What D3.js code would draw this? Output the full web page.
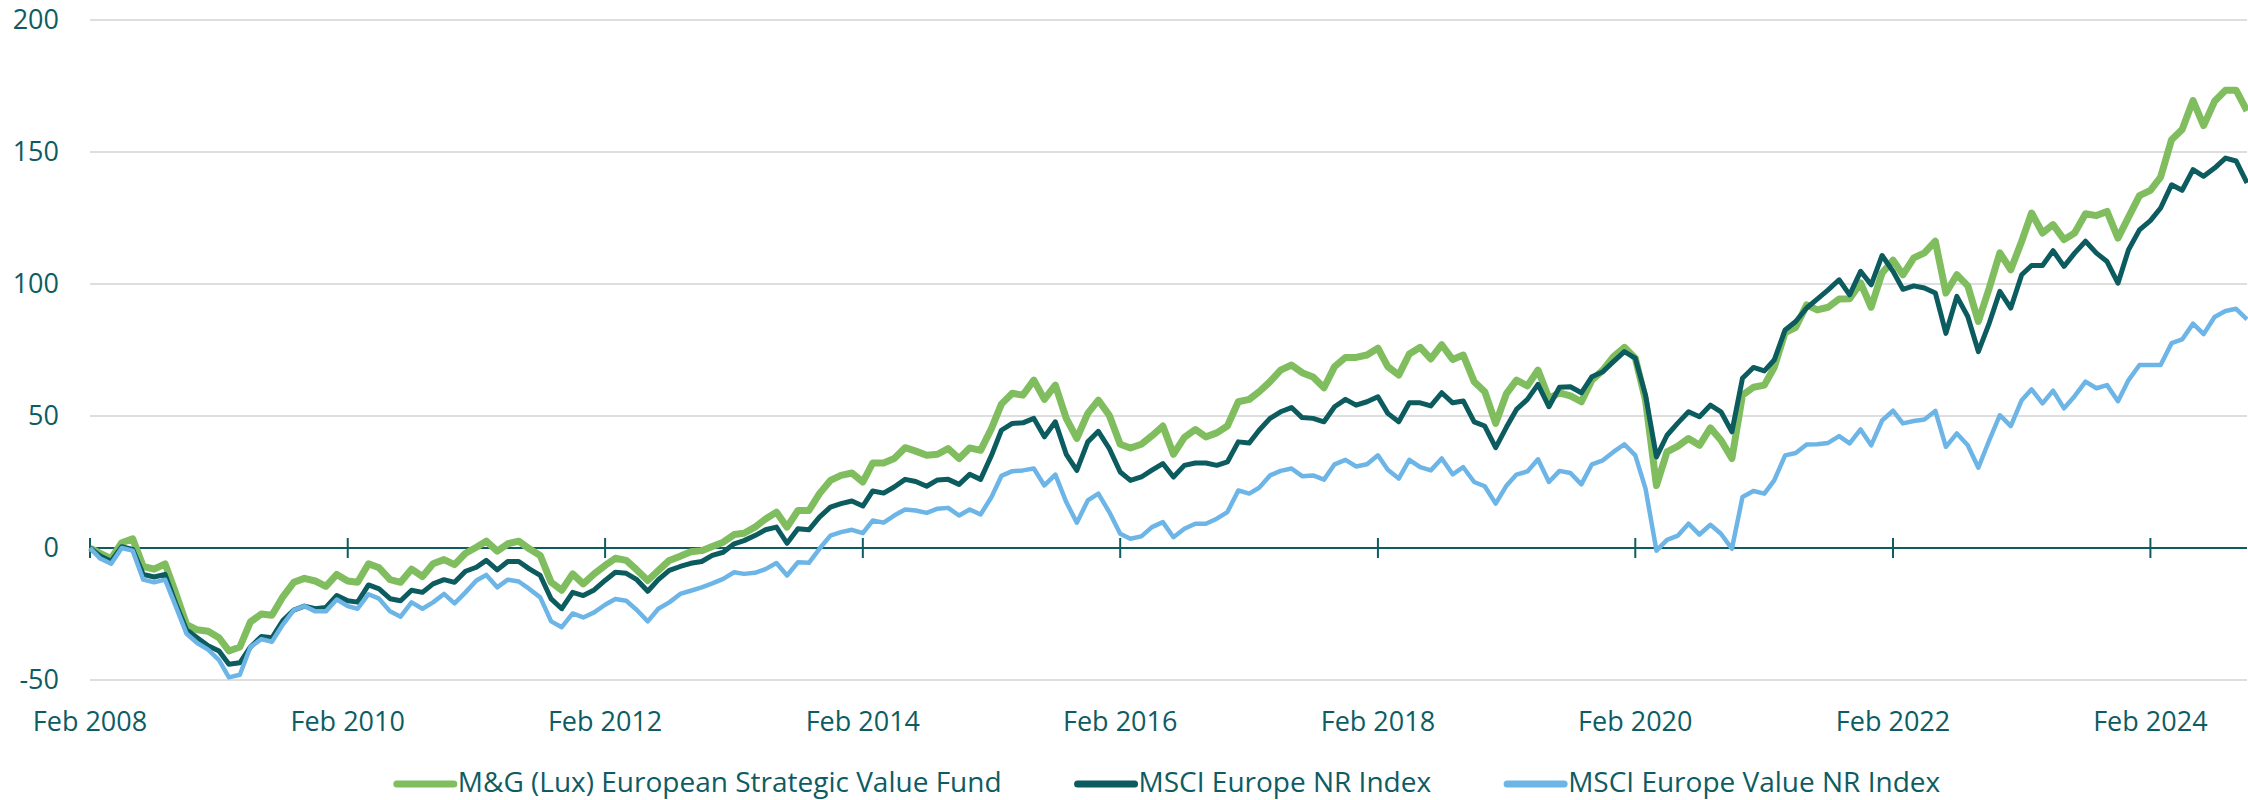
<!DOCTYPE html>
<html>
<head>
<meta charset="utf-8">
<script src="https://cdn.jsdelivr.net/npm/d3@7"></script>
<style>
  body { margin: 0; background: #fff; }
  svg { display: block; font-family: "Open Sans", sans-serif; }
  .tick-label { fill: #0e5c63; font-size: 27px; }
  .legend-label { fill: #0e5c63; font-size: 28px; }
</style>
</head>
<body>
<svg width="2248" height="800"></svg>
<script>
// monthly values, first point is Feb 2008
var startMonth = new Date(2008, 1, 1);

var fund = [0,-2,-4,2,3.5,-7,-8,-6,-17,-29,-31,-31.5,-34,-39,-37.5,-28,-25,-25.5,-18.5,-13,
  -11.5,-12.5,-14.5,-10,-12.5,-13,-6,-7.5,-12,-13,-8,-10.8,-6,-4.4,-6.3,-2,0.3,2.6,-1.2,1.6,
  2.6,-0.3,-2.8,-13,-16,-9.8,-13.6,-9.8,-6.6,-3.9,-4.7,-8.3,-12.3,-8.5,-4.7,-3.1,-1.4,-1,0.6,2.2,
  5.1,5.6,7.9,11,13.6,7.9,14.2,14.2,20.6,25.6,27.5,28.4,25,32.2,32.2,33.9,38,36.7,35.1,35.5,
  37.7,33.9,37.9,37,45.3,54.5,58.6,57.9,63.6,56.3,61.7,49.1,41.5,51,56,50.3,39.3,37.9,39.3,42.5,
  46.2,35.5,41.9,44.9,42.1,43.6,46.2,55.4,56.3,59.2,63,67.4,69.3,66.4,64.8,60.7,68.7,72.2,72.2,73.1,
  75.7,68.7,65.5,73.5,76,71.6,77,71.4,73.1,63,59.2,47.2,58.6,63.6,61.4,67.4,56.7,58.8,57.6,55.4,
  63.6,67.4,72.5,76,71.9,56,23.7,36.4,38.6,41.5,38.9,45.5,40.8,33.9,57.9,60.9,61.7,68.4,81.6,83.6,
  92.1,90.2,91.2,94.3,94.4,100.4,91.2,104.2,109,103.5,109.9,111.8,116.2,96.6,103.5,99.3,85.8,98.5,111.8,105.4,
  116.2,126.9,119.3,122.5,116.8,119.3,126.6,125.9,127.5,117.4,125.3,133.5,135.5,140.5,154.6,158.5,169.5,160,169.2,173.4,
  173.4,165.6];

var msciEurope = [0,-3,-5,0.5,-0.5,-10,-11,-10,-21,-31,-34,-37,-39,-44,-43.5,-37.5,-33.5,-34,-27.5,-23.5,
  -22,-23,-22.5,-18,-20,-20.5,-14,-15.5,-19.2,-20,-16,-16.8,-13.6,-12,-13,-8.8,-7.3,-4.7,-8.3,-5.1,
  -5.1,-7.9,-10.4,-19.3,-23,-16.8,-18,-15.9,-12.3,-9.2,-9.6,-12,-16.4,-12,-8.5,-7,-5.8,-5.1,-2.8,-1.6,
  1.6,2.8,4.7,6.9,7.9,1.8,7.3,6.9,11.7,15.5,16.8,17.8,15.9,21.6,20.8,23.1,26,25.2,23.4,25.8,
  26,24.1,27.9,26,35.1,44.6,47.2,47.4,49.1,42.1,47.8,35.5,29.4,40.2,44.2,37.7,28.8,25.6,26.9,29.5,
  32,26.9,31.3,32.2,32.2,31.3,32.6,40.2,39.8,44.6,49.1,51.6,53.2,49.4,49.1,47.8,53.5,56.3,54.1,55.4,
  57.3,51,47.8,55,55,53.8,58.8,55,55.7,47.8,46.2,38,45.9,52.5,56.3,62,53.5,60.9,61.1,58.8,
  64.9,66.8,70.6,74.4,71.9,57.9,34.5,42.7,47.4,51.6,49.7,54.1,51.6,44,64.3,68.4,67.1,71.2,82.6,85.8,
  90.9,94.3,97.8,101.6,95.9,104.8,99.7,110.8,104.8,98,99.3,98.5,96.6,81.3,95.3,87.7,74.4,85.2,97.2,90.9,
  103.5,107,107,112.6,106.7,111.7,116.2,111.7,108.5,100.3,113,120.5,124,128.8,137.6,135.5,143.3,140.8,143.9,147.7,
  146.6,138.3];

var msciValue = [0,-4,-6,0,-1,-12,-13,-12,-22,-32.5,-36,-38.5,-42.5,-49,-48,-37.5,-34.5,-35.5,-29,-23.5,
  -22,-24,-24,-19.5,-22,-23,-17.5,-19.2,-24,-26,-20.6,-23,-20.6,-17.4,-21,-16.8,-12.3,-10.2,-14.9,-12,
  -12.7,-15.5,-18.7,-27.8,-30,-24.8,-26.3,-24.4,-21.5,-19.3,-20,-23.5,-27.8,-23,-20.6,-17.4,-16.2,-14.9,-13.4,-11.7,
  -9.2,-9.8,-9.4,-8,-5.7,-10.4,-5.4,-5.6,-0.3,4.7,6,6.9,5.6,10.4,9.6,12.3,14.6,14.2,13.3,14.9,
  15.2,12.3,14.6,12.7,19.3,27.3,29.1,29.4,30.1,23.7,27.8,17.4,9.6,18,20.6,13.6,5.4,3.5,4.4,7.9,
  9.8,4.1,7.3,9.2,9.2,11.1,13.6,21.8,20.6,22.8,27.5,29.2,30.1,27.2,27.5,25.9,31.7,33.4,30.9,31.7,
  35.1,29.6,26.3,33.4,30.6,29.4,33.9,27.9,30.6,25,23.4,16.8,23.7,27.8,29,33.6,25,29.2,28.4,24.1,
  31.7,33.2,36.4,39.3,35.1,22.5,-1,3.1,4.7,9.2,5.1,8.8,5.4,-0.3,19.3,21.6,20.6,25.6,35.1,36,
  39.2,39.3,39.8,42.4,39.6,44.9,38.9,48.3,52,47.2,48.1,48.7,51.9,38.3,43.4,38.9,30.4,40.8,50.3,46.2,
  56,60.1,54.8,59.6,52.9,57.5,63,60.5,61.7,55.6,63.6,69.3,69.3,69.3,77.6,79,85,81,87.5,89.8,
  90.6,86.6];

var yTicks = [-50, 0, 50, 100, 150, 200];
var xTickLabels = ["Feb 2008", "Feb 2010", "Feb 2012", "Feb 2014", "Feb 2016", "Feb 2018", "Feb 2020", "Feb 2022", "Feb 2024"];

var seriesNames = ["M&G (Lux) European Strategic Value Fund", "MSCI Europe NR Index", "MSCI Europe Value NR Index"];
var seriesColors = ["#80bd5e", "#0b5b5f", "#6cb5e6"];
var seriesWidths = [7, 5, 4.5];

function drawChart() {
  var svg = d3.select("svg"),
      plotLeft = 90, plotRight = 2247, plotTop = 20, plotBottom = 680;

  var months = fund.map(function(d, i) { return d3.timeMonth.offset(startMonth, i); });

  var x = d3.scaleTime()
      .domain([startMonth, months[months.length - 1]])
      .range([plotLeft, plotRight]);

  var y = d3.scaleLinear()
      .domain([-50, 200])
      .range([plotBottom, plotTop]);

  svg.append("rect").attr("width", 2248).attr("height", 800).attr("fill", "#fff");

  // gridlines (zero is drawn as the axis)
  svg.append("g").selectAll("line")
    .data(yTicks.filter(function(d) { return d !== 0; }))
    .enter().append("line")
      .attr("x1", plotLeft).attr("x2", plotRight)
      .attr("y1", function(d) { return y(d); })
      .attr("y2", function(d) { return y(d); })
      .attr("stroke", "#dedede")
      .attr("stroke-width", 2);

  svg.append("g").selectAll("text")
    .data(yTicks)
    .enter().append("text")
      .attr("class", "tick-label")
      .attr("x", 59)
      .attr("y", function(d) { return y(d); })
      .attr("dy", "0.35em")
      .attr("text-anchor", "end")
      .text(function(d) { return d; });

  // x axis sits on the zero line
  var tickDates = xTickLabels.map(function(d) { return d3.timeParse("%b %Y")(d); });

  svg.append("line")
      .attr("x1", plotLeft).attr("x2", plotRight)
      .attr("y1", y(0)).attr("y2", y(0))
      .attr("stroke", "#0e5c63")
      .attr("stroke-width", 2);

  svg.append("g").selectAll("line")
    .data(tickDates)
    .enter().append("line")
      .attr("x1", function(d) { return x(d); })
      .attr("x2", function(d) { return x(d); })
      .attr("y1", y(0) - 10).attr("y2", y(0) + 10)
      .attr("stroke", "#0e5c63")
      .attr("stroke-width", 2);

  svg.append("g").selectAll("text")
    .data(tickDates)
    .enter().append("text")
      .attr("class", "tick-label")
      .attr("x", function(d) { return x(d); })
      .attr("y", 731)
      .attr("text-anchor", "middle")
      .text(function(d, i) { return xTickLabels[i]; });

  // lines
  var line = d3.line()
      .x(function(d, i) { return x(months[i]); })
      .y(function(d) { return y(d); });

  [fund, msciEurope, msciValue].forEach(function(s, k) {
    svg.append("path")
        .datum(s)
        .attr("fill", "none")
        .attr("stroke", seriesColors[k])
        .attr("stroke-width", seriesWidths[k])
        .attr("stroke-linejoin", "round")
        .attr("d", line);
  });

  // legend, centred under the plot
  var legend = svg.append("g");
  var items = legend.selectAll("g")
    .data(seriesNames)
    .enter().append("g");

  items.append("line")
      .attr("x1", 0).attr("x2", 57)
      .attr("y1", 784).attr("y2", 784)
      .attr("stroke", function(d, i) { return seriesColors[i]; })
      .attr("stroke-width", 7)
      .attr("stroke-linecap", "round");

  items.append("text")
      .attr("class", "legend-label")
      .attr("x", 61)
      .attr("y", 792)
      .text(function(d) { return d; });

  var pos = 0, gap = 76;
  items.each(function() {
    var w = 61 + d3.select(this).select("text").node().getComputedTextLength();
    d3.select(this).attr("transform", "translate(" + pos + ",0)");
    pos += w + gap;
  });
  var total = pos - gap;
  legend.attr("transform", "translate(" + ((plotLeft + plotRight) / 2 - total / 2) + ",0)");
}

drawChart();
</script>
</body>
</html>
